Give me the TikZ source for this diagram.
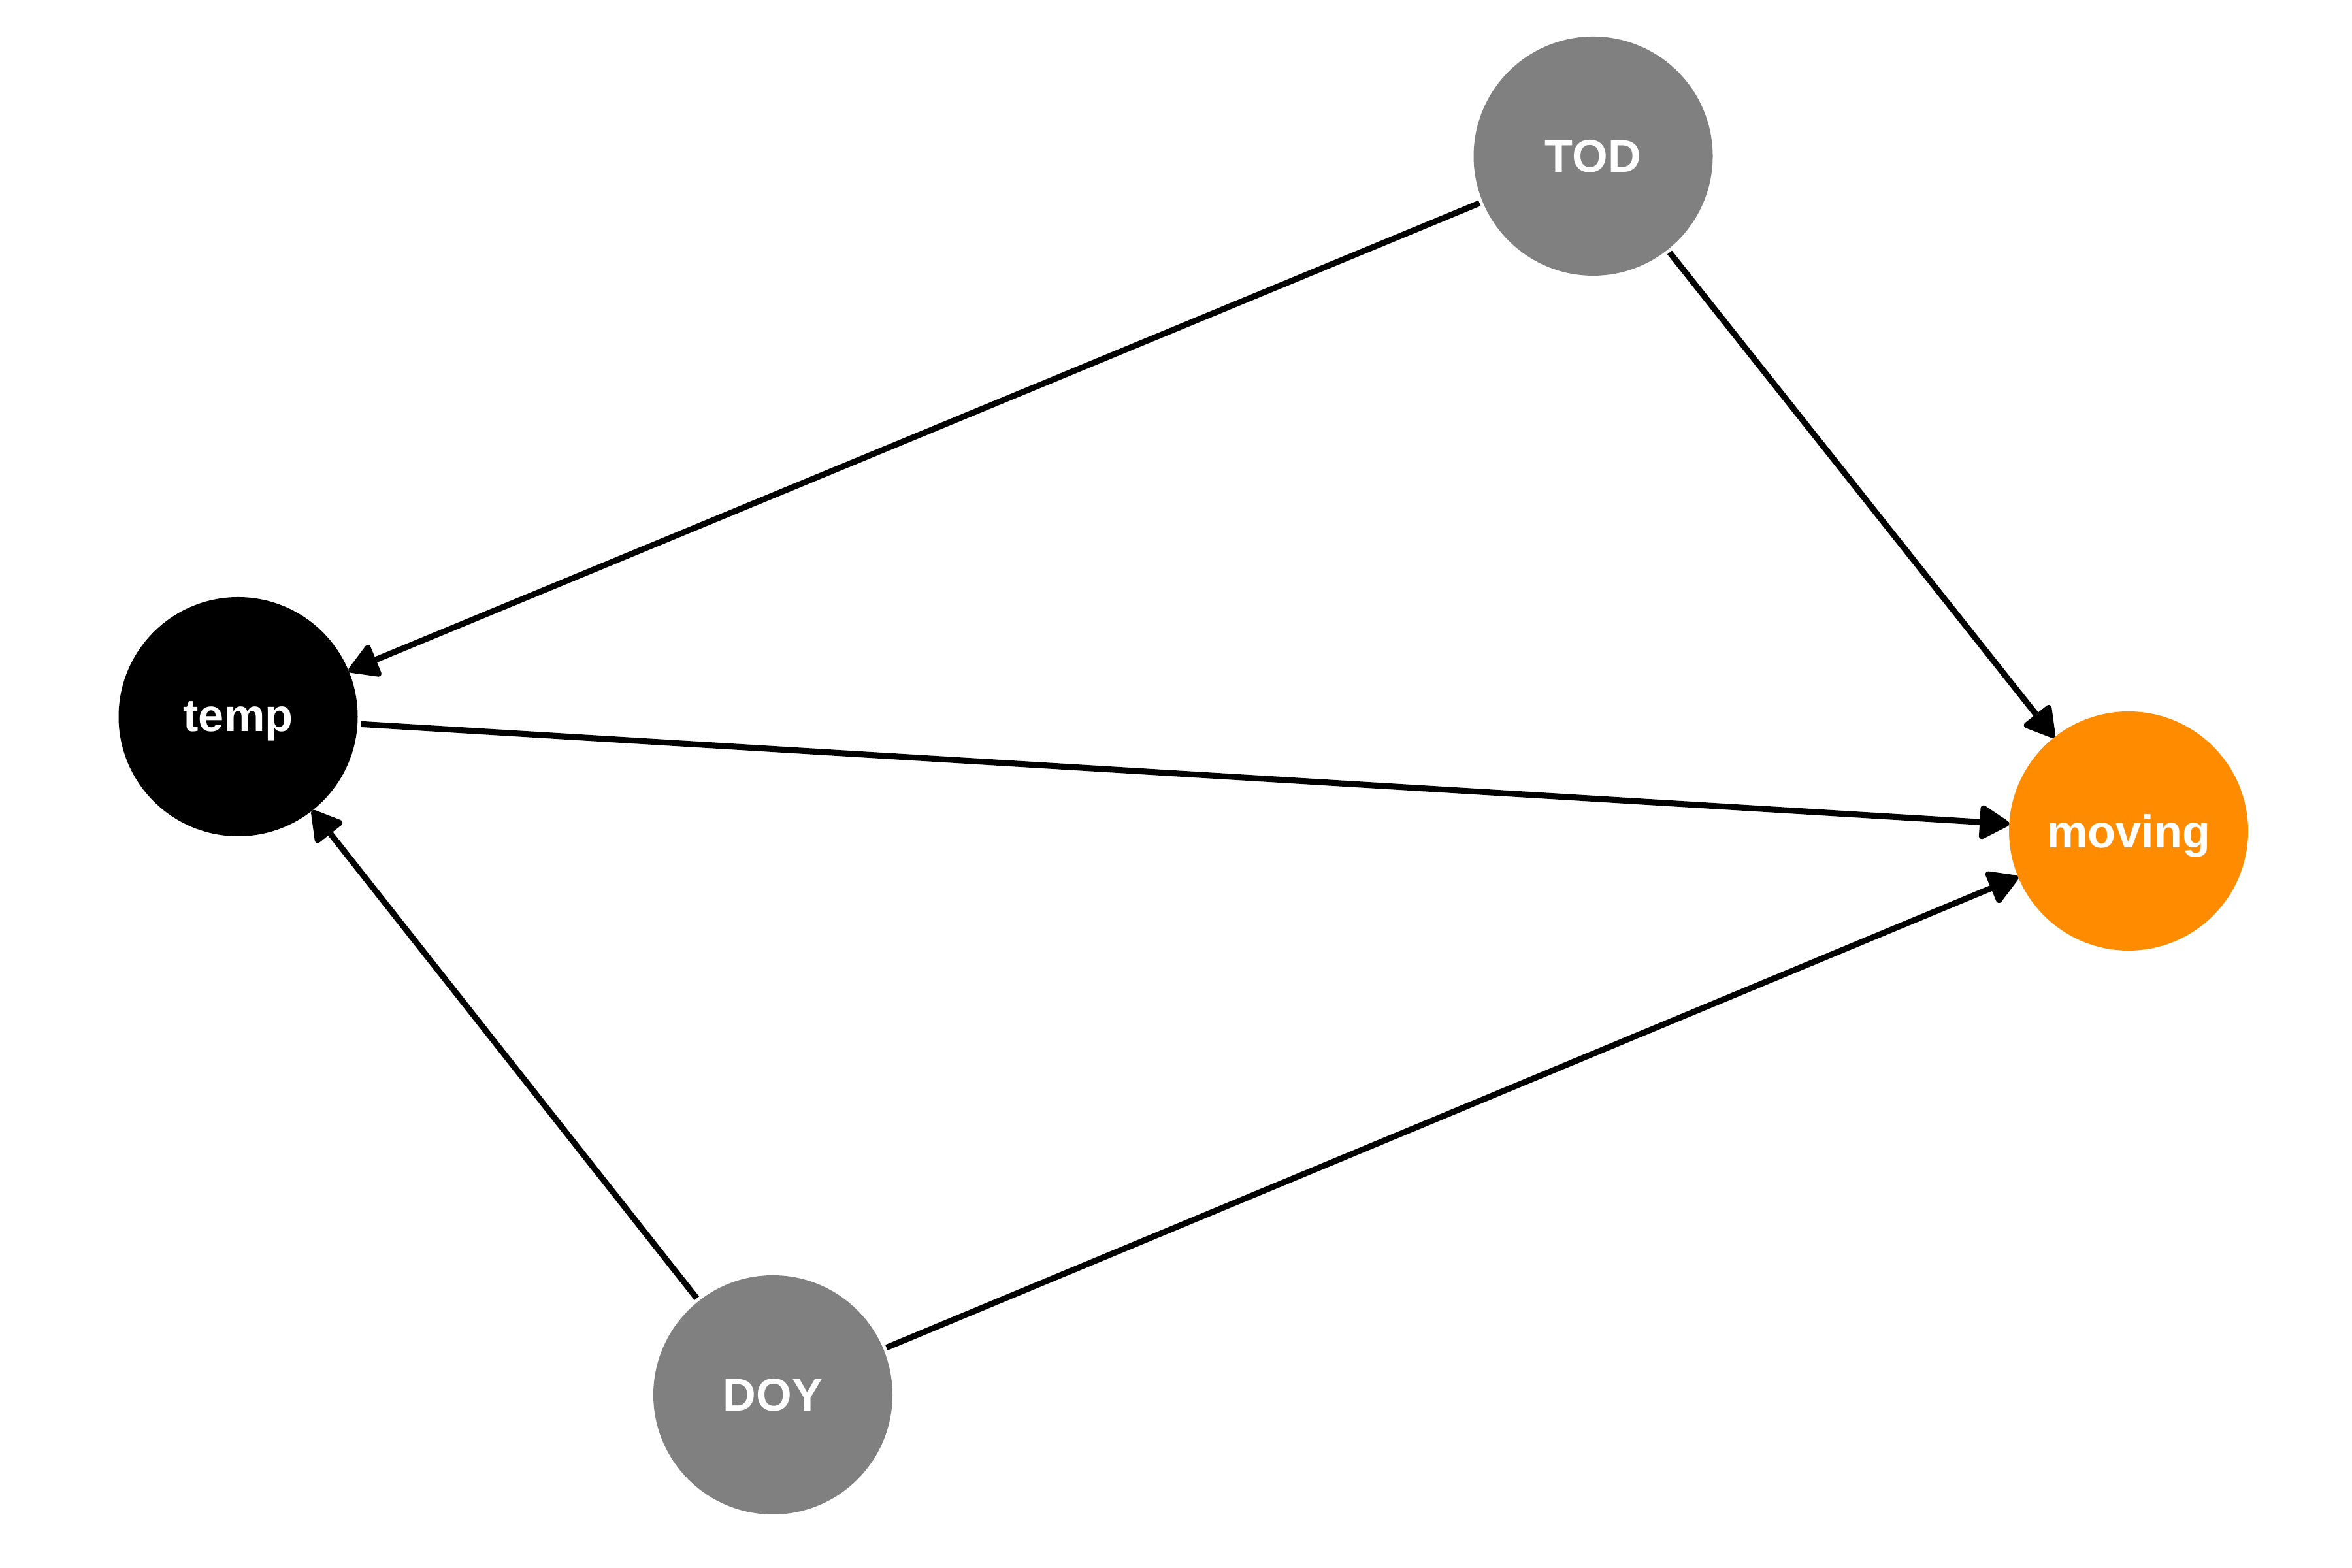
\documentclass[tikz,border=0pt]{standalone}
\usepackage{fontspec}
\setmainfont{Liberation Sans}
\usepackage{xcolor}
\usetikzlibrary{arrows.meta}
\definecolor{dagorange}{RGB}{255,140,0}
\definecolor{daggray}{RGB}{128,128,128}

\begin{document}
\begin{tikzpicture}[
    var/.style={circle,minimum size=3.66cm,inner sep=0pt,outer sep=0pt,
      text=white,text depth=0pt,font=\fontsize{20}{24}\selectfont\bfseries},
    edge/.style={line width=2.6pt,
      -{Triangle[length=5mm,width=5.6mm,round]},shorten <=1.5pt}]
    \useasboundingbox (0,0) rectangle (36,24);

      \node[var,fill=black]      (temp)   at (3.645,13.03) {temp};
      \node[var,fill=dagorange]  (moving) at (32.58,11.28) {moving};
      \node[var,fill=daggray]    (TOD)    at (24.385,21.61) {TOD};
      \node[var,fill=daggray]    (DOY)    at (11.83,2.65)  {DOY};

      \draw[edge] (TOD) -- (temp);
      \draw[edge] (TOD) -- (moving);
      \draw[edge] (temp) -- (moving);
      \draw[edge] (DOY) -- (temp);
      \draw[edge] (DOY) -- (moving);

    \end{tikzpicture}
\end{document}
